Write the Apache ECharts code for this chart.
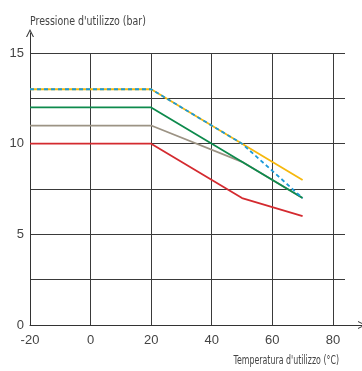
<!DOCTYPE html>
<html><head><meta charset="utf-8">
<script src="https://cdn.jsdelivr.net/npm/echarts@6/dist/echarts.min.js"></script>
<style>html,body{margin:0;padding:0;background:#fff}#c{width:362px;height:371px}</style>
</head><body><div id="c"></div>
<script>
// Data
const xTicks = [-20, 0, 20, 40, 60, 80];
const yTicks = [0, 5, 10, 15];
const redX = [-20, 20, 50, 70];
const redY = [10, 10, 7, 6];
const grayX = [-20, 20, 50, 70];
const grayY = [11, 11, 9, 7];
const greenX = [-20, 20, 70];
const greenY = [12, 12, 7];
const yellowX = [-20, 20, 70];
const yellowY = [13, 13, 8];
const blueX = [-20, 20, 50, 70];
const blueY = [13, 13, 10, 7];
const yTitle = "Pressione d'utilizzo (bar)";
const xTitle = "Temperatura d'utilizzo (°C)";

const pairs = (xs, ys) => xs.map((x, i) => [x, ys[i]]);
const FONTNAME = "'DejaVu Sans Condensed', 'DejaVu Sans', sans-serif";
const chev = 'path://M0,100 L50,0 L100,100 L86,100 L50,28 L14,100 Z';

const chart = echarts.init(document.getElementById('c'), null, {renderer: 'canvas'});
const mk = (name, xs, ys, color, extra) => Object.assign({
  type: 'line', name, data: pairs(xs, ys), xAxisIndex: 0, yAxisIndex: 0,
  symbol: 'none', animation: false,
  lineStyle: {color, width: 1.8}
}, extra || {});

chart.setOption({
  animation: false,
  grid: [
    {left: 30, right: 17, top: 53, bottom: 46},
    {left: 30, right: 0, top: 33, bottom: 46}
  ],
  graphic: [{
    type: 'text', x: 30, y: 22, scaleX: 0.84,
    style: {text: yTitle, font: '12.5px ' + FONTNAME, fill: '#444', textAlign: 'left', textVerticalAlign: 'middle'}
  }, {
    type: 'text', x: 339, y: 361, scaleX: 0.73,
    style: {text: xTitle, font: '12px ' + FONTNAME, fill: '#444', textAlign: 'right', textVerticalAlign: 'middle'}
  }],
  xAxis: [{
    type: 'value', gridIndex: 0, min: -20, max: 84, interval: 20,
    axisLine: {show: false}, axisTick: {show: false},
    axisLabel: {
      margin: 9, color: '#444', fontSize: 13, fontFamily: 'Liberation Sans,sans-serif',
      showMaxLabel: false,
      formatter: v => xTicks.includes(v) ? String(v) : ''
    },
    splitLine: {show: true, showMaxLine: false, lineStyle: {color: '#3a3a3a', width: 1}}
  }, {
    type: 'value', gridIndex: 1, min: 0, max: 1,
    axisLine: {show: true, lineStyle: {color: '#333', width: 1}, symbol: ['none', chev], symbolSize: [9, 8]},
    axisTick: {show: false}, axisLabel: {show: false}, splitLine: {show: false}
  }],
  yAxis: [{
    type: 'value', gridIndex: 0, min: 0, max: 15, interval: 2.5,
    axisLine: {show: false}, axisTick: {show: false},
    axisLabel: {
      margin: 6, color: '#444', fontSize: 13, fontFamily: 'Liberation Sans,sans-serif',
      formatter: v => yTicks.includes(v) ? String(v) : ''
    },
    splitLine: {show: true, lineStyle: {color: '#3a3a3a', width: 1}}
  }, {
    type: 'value', gridIndex: 1, min: 0, max: 1,
    axisLine: {show: true, lineStyle: {color: '#333', width: 1}, symbol: ['none', chev], symbolSize: [9, 8]},
    axisTick: {show: false}, axisLabel: {show: false}, splitLine: {show: false}
  }],
  series: [
    mk('gray', grayX, grayY, '#9c9384'),
    mk('red', redX, redY, '#d42a2f'),
    mk('green', greenX, greenY, '#0d8a4c'),
    mk('yellow', yellowX, yellowY, '#f6b80d'),
    mk('blue', blueX, blueY, '#1b9ad8', {lineStyle: {color: '#1b9ad8', width: 1.8, type: [4, 3]}})
  ]
});
</script>
</body></html>
